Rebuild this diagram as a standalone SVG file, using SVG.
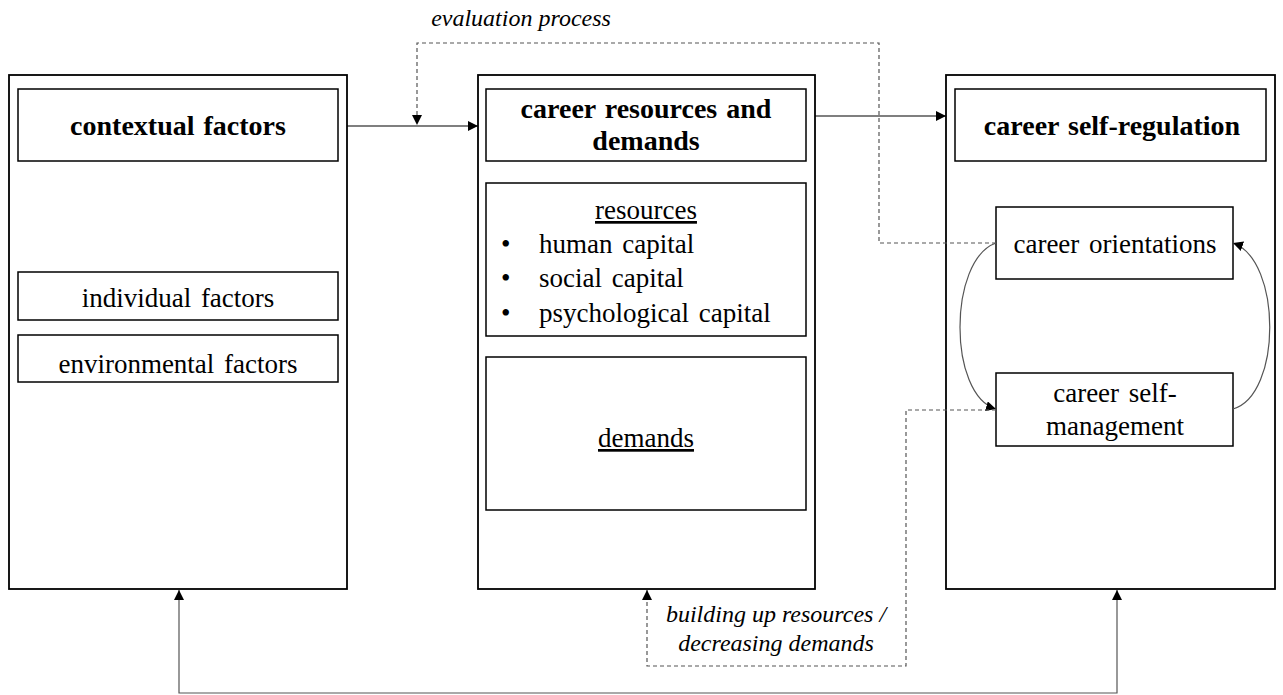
<svg xmlns="http://www.w3.org/2000/svg" width="1283" height="695" viewBox="0 0 1283 695">
<style>
.box{fill:#fff;stroke:#000;stroke-width:1.8}
.ibox{fill:none;stroke:#000;stroke-width:1.5}
.t{font-family:"Liberation Serif","Times New Roman",serif;font-size:27px;fill:#000;text-anchor:middle;word-spacing:3px}
.b{font-weight:bold;font-size:28px;word-spacing:2px}
.i{font-style:italic;font-size:24px;word-spacing:0}
.ln{fill:none;stroke:#000;stroke-width:1.2}
.gr{fill:none;stroke:#555;stroke-width:1.2}
.ds{fill:none;stroke:#555;stroke-width:1.2;stroke-dasharray:4 3}
</style>
<defs>
<marker id="ah" viewBox="0 0 10 10" refX="10" refY="5" markerWidth="10" markerHeight="10" markerUnits="userSpaceOnUse" orient="auto"><path d="M0,0 L10,5 L0,10 z" fill="#000"/></marker>
<marker id="ahs" viewBox="0 0 10 10" refX="10" refY="5" markerWidth="10" markerHeight="10" markerUnits="userSpaceOnUse" orient="auto-start-reverse"><path d="M0,0 L10,5 L0,10 z" fill="#000"/></marker>
</defs>
<g id="contextual">
<rect class="box" x="9" y="75" width="338" height="514"/>
<rect class="ibox" x="18" y="89" width="320" height="72"/>
<text class="t b" x="178" y="135">contextual factors</text>
<rect class="ibox" x="18" y="272" width="320" height="48"/>
<text class="t" x="178" y="307">individual factors</text>
<rect class="ibox" x="18" y="335" width="320" height="47"/>
<text class="t" x="178" y="373">environmental factors</text>
</g>
<g id="resources">
<rect class="box" x="478" y="75" width="337" height="514"/>
<rect class="ibox" x="486" y="89" width="320" height="72"/>
<text class="t b" x="646" y="118">career resources and</text>
<text class="t b" x="646" y="150">demands</text>
<rect class="ibox" x="486" y="183" width="320" height="153"/>
<text class="t" x="646" y="219" text-decoration="underline">resources</text>
<g class="t" style="text-anchor:start">
<text x="501" y="253">•</text><text x="539" y="253">human capital</text>
<text x="501" y="287">•</text><text x="539" y="287">social capital</text>
<text x="501" y="322">•</text><text x="539" y="322">psychological capital</text>
</g>
<rect class="ibox" x="486" y="357" width="320" height="153"/>
<text class="t" x="646" y="447" text-decoration="underline">demands</text>
</g>
<g id="selfreg">
<rect class="box" x="946" y="75" width="329" height="514"/>
<rect class="ibox" x="955" y="89" width="311" height="72"/>
<text class="t b" x="1112" y="135">career self-regulation</text>
<rect class="ibox" x="996" y="207" width="237" height="72"/>
<text class="t" x="1115" y="253">career orientations</text>
<rect class="ibox" x="996" y="373" width="237" height="73"/>
<text class="t" x="1115" y="402">career self-</text>
<text class="t" x="1115" y="435">management</text>
</g>
<g id="connectors">
<line class="ln" x1="347" y1="126" x2="478" y2="126" marker-end="url(#ah)"/>
<line class="ln" x1="815" y1="116" x2="946" y2="116" marker-end="url(#ah)"/>
<path class="ds" d="M996,243 H879 V43 H417 V125" marker-end="url(#ah)"/>
<path class="gr" d="M996,243 C948,260 948,395 996,409" marker-end="url(#ah)"/>
<path class="gr" d="M1233,409 C1282,395 1282,260 1233,243" marker-end="url(#ah)"/>
<path class="ds" d="M996,410 H906 V666 H647 V590" marker-end="url(#ah)"/>
<path class="gr" d="M179,590 V693 H1117 V590" marker-start="url(#ahs)" marker-end="url(#ah)"/>
</g>
<g id="labels">
<text class="t i" x="521" y="26">evaluation process</text>
<text class="t i" x="776" y="622">building up resources /</text>
<text class="t i" x="776" y="651">decreasing demands</text>
</g>
</svg>
